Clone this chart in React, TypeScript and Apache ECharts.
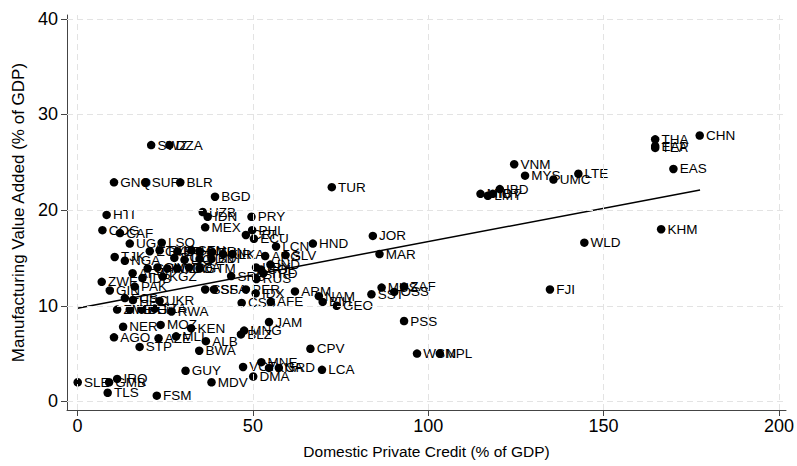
import React, { useEffect, useRef } from "react";
import * as echarts from "echarts";

const xTicks = [0, 50, 100, 150, 200];
const yTicks = [0, 10, 20, 30, 40];
const fitCredit = [0, 177.5];
const fitManufacturing = [9.75, 22.1];

type Pt = [string, number, number];

const aggregatePoints: Pt[] = [
  ["CHN", 177.4, 27.8], ["THA", 164.7, 27.4], ["EAP", 164.7, 26.7], ["TEA", 164.7, 26.5],
  ["EAS", 169.9, 24.3], ["KHM", 166.4, 18.0], ["VNM", 124.5, 24.8], ["MYS", 127.6, 23.6],
  ["UMC", 135.7, 23.2], ["LTE", 142.8, 23.8], ["IBD", 120.4, 22.2], ["MIC", 114.9, 21.7],
  ["LMY", 117.0, 21.5], ["IBT", 118.4, 21.7], ["WLD", 144.5, 16.6], ["FJI", 134.7, 11.7],
  ["PSS", 93.1, 8.4], ["WSM", 96.8, 5.0], ["NPL", 103.3, 5.0], ["MUS", 86.7, 11.9],
  ["ZAF", 93.1, 12.0], ["SST", 83.8, 11.2], ["OSS", 90.3, 11.45],
];

const upperPoints: Pt[] = [
  ["SWZ", 21.0, 26.8], ["DZA", 26.2, 26.8], ["GNQ", 10.4, 22.9], ["SUR", 19.4, 22.9],
  ["BLR", 29.3, 22.9], ["BGD", 39.2, 21.4], ["HTI", 8.3, 19.5], ["UZB", 35.7, 19.8],
  ["IDN", 37.1, 19.3], ["MEX", 36.4, 18.2], ["COG", 7.1, 17.9], ["CAF", 12.1, 17.6],
  ["TUR", 72.5, 22.4], ["PRY", 49.6, 19.3], ["PHL", 49.8, 17.9], ["CRI", 48.0, 17.4],
  ["ECU", 50.3, 17.0], ["HND", 67.1, 16.5], ["JOR", 84.2, 17.3], ["MAR", 86.1, 15.4],
  ["LCN", 56.6, 16.2], ["SLV", 59.3, 15.3],
];

const clusterPoints: Pt[] = [
  ["EGY", 20.6, 15.7], ["TKM", 23.4, 15.8], ["ETH", 28.5, 15.7], ["SEN", 32.5, 15.8],
  ["CMR", 34.8, 15.7], ["TUN", 38.4, 15.6], ["KIR", 41.5, 15.4], ["LKA", 44.2, 15.4],
  ["BOL", 27.6, 15.0], ["LIC", 30.5, 14.8], ["SDN", 34.8, 14.9], ["BDI", 38.2, 14.9],
  ["GHA", 20.0, 13.9], ["CIV", 22.8, 14.0], ["MMR", 25.6, 13.9], ["TGO", 28.4, 13.9],
  ["BFA", 31.8, 14.0], ["GTM", 34.8, 13.9], ["SRB", 43.8, 13.1], ["URY", 50.9, 14.0],
  ["COL", 52.3, 13.8], ["TRD", 53.0, 13.4], ["RUS", 51.0, 12.8], ["IND", 55.0, 14.3],
  ["ARG", 53.5, 15.2],
];

const lowerPoints: Pt[] = [
  ["UGA", 14.9, 16.5], ["LSO", 24.0, 16.6], ["TJK", 10.6, 15.1], ["NGA", 13.5, 14.7],
  ["AFW", 15.7, 13.4], ["IDB", 18.5, 12.9], ["KGZ", 24.3, 13.05], ["ZWE", 6.9, 12.5],
  ["PAK", 16.3, 12.0], ["GIN", 9.2, 11.6], ["FCS", 13.5, 10.8], ["HPC", 15.8, 10.6],
  ["UKR", 23.4, 10.5], ["ZMB", 11.3, 9.6], ["MDG", 14.9, 9.6], ["BEN", 18.3, 9.6],
  ["TZA", 22.0, 9.7], ["RWA", 26.8, 9.4], ["NER", 13.0, 7.8], ["MOZ", 23.7, 8.0],
  ["KEN", 32.4, 7.65], ["ARM", 62.0, 11.5], ["JAM", 54.6, 8.3], ["MNG", 47.5, 7.4],
  ["BLZ", 46.6, 7.0], ["CSS", 46.8, 10.3], ["AFE", 55.1, 10.4], ["PER", 48.0, 11.7],
  ["SSF", 36.4, 11.7], ["SSA", 38.9, 11.7], ["IDX", 50.8, 11.3], ["NAM", 68.8, 11.0],
  ["BIH", 69.9, 10.4], ["GEO", 73.9, 10.0], ["CPV", 66.4, 5.5], ["VCT", 47.2, 3.6],
  ["MNE", 52.4, 4.1], ["KNA", 54.6, 3.5], ["GRD", 57.4, 3.5], ["DMA", 50.1, 2.6],
  ["LCA", 69.7, 3.3], ["AGO", 10.4, 6.7], ["AZE", 23.1, 6.6], ["MLI", 28.1, 6.8],
  ["ALB", 36.6, 6.3], ["STP", 17.7, 5.7], ["BWA", 34.7, 5.3], ["GUY", 30.8, 3.2],
  ["MDV", 38.2, 2.0], ["SLE", 0.05, 2.0], ["GMB", 9.0, 2.0], ["IRQ", 11.3, 2.35],
  ["TLS", 8.6, 0.9], ["FSM", 22.6, 0.6],
];

const FONT = "'Liberation Sans', Arial, Helvetica, sans-serif";

export default function App() {
  const ref = useRef<HTMLDivElement>(null);
  useEffect(() => {
    if (!ref.current) return;
    const chart = echarts.init(ref.current, undefined, { renderer: "svg" });
    const all = [...aggregatePoints, ...upperPoints, ...clusterPoints, ...lowerPoints];
    const gridStyle = { color: "#e3e3e3", type: [6, 4] as any, width: 1 };
    chart.setOption({
      animation: false,
      backgroundColor: "#ffffff",
      grid: { left: 67, right: 7, top: 15, bottom: 56, containLabel: false },
      xAxis: {
        type: "value",
        min: -3,
        max: 202,
        name: "Domestic Private Credit (% of GDP)",
        nameLocation: "middle",
        nameGap: 33,
        nameTextStyle: { fontSize: 15.5, color: "#000", fontFamily: FONT },
        axisLine: { show: true, onZero: false, lineStyle: { color: "#444", width: 1 } },
        axisTick: { show: true, length: 6, customValues: xTicks, lineStyle: { color: "#444" } },
        axisLabel: { customValues: xTicks, fontSize: 18, color: "#000", margin: 7, fontFamily: FONT },
        splitLine: { show: false },
      },
      yAxis: {
        type: "value",
        min: -0.9,
        max: 40.4,
        name: "Manufacturing Value Added (% of GDP)",
        nameLocation: "middle",
        nameGap: 38,
        nameRotate: 90,
        nameTextStyle: { fontSize: 17, color: "#000", fontFamily: FONT },
        axisLine: { show: true, onZero: false, lineStyle: { color: "#444", width: 1 } },
        axisTick: { show: true, length: 6, customValues: yTicks, lineStyle: { color: "#444" } },
        axisLabel: { customValues: yTicks, fontSize: 18, color: "#000", margin: 9, fontFamily: FONT },
        splitLine: { show: false },
      },
      series: [
        {
          type: "line",
          data: [],
          silent: true,
          markLine: {
            silent: true,
            symbol: "none",
            label: { show: false },
            lineStyle: gridStyle,
            data: [
              ...xTicks.map((v) => ({ xAxis: v })),
              ...yTicks.map((v) => ({ yAxis: v })),
            ],
          },
          z: 1,
        },
        {
          type: "line",
          data: fitCredit.map((x, i) => [x, fitManufacturing[i]]),
          showSymbol: false,
          symbol: "none",
          lineStyle: { color: "#000", width: 1.5 },
          silent: true,
          z: 2,
        },
        {
          type: "scatter",
          symbol: "circle",
          symbolSize: 8.5,
          itemStyle: { color: "#000", opacity: 1 },
          data: all.map((p) => ({ name: p[0], value: [p[1], p[2]] })),
          label: {
            show: true,
            position: "right",
            distance: 2,
            formatter: "{b}",
            color: "#000",
            fontSize: 13.5,
            fontFamily: FONT,
          },
          z: 3,
        },
      ],
    });
    return () => chart.dispose();
  }, []);
  return (
    <div
      ref={ref}
      style={{ position: "fixed", left: 0, top: 0, width: 797, height: 466, background: "#fff" }}
    />
  );
}
